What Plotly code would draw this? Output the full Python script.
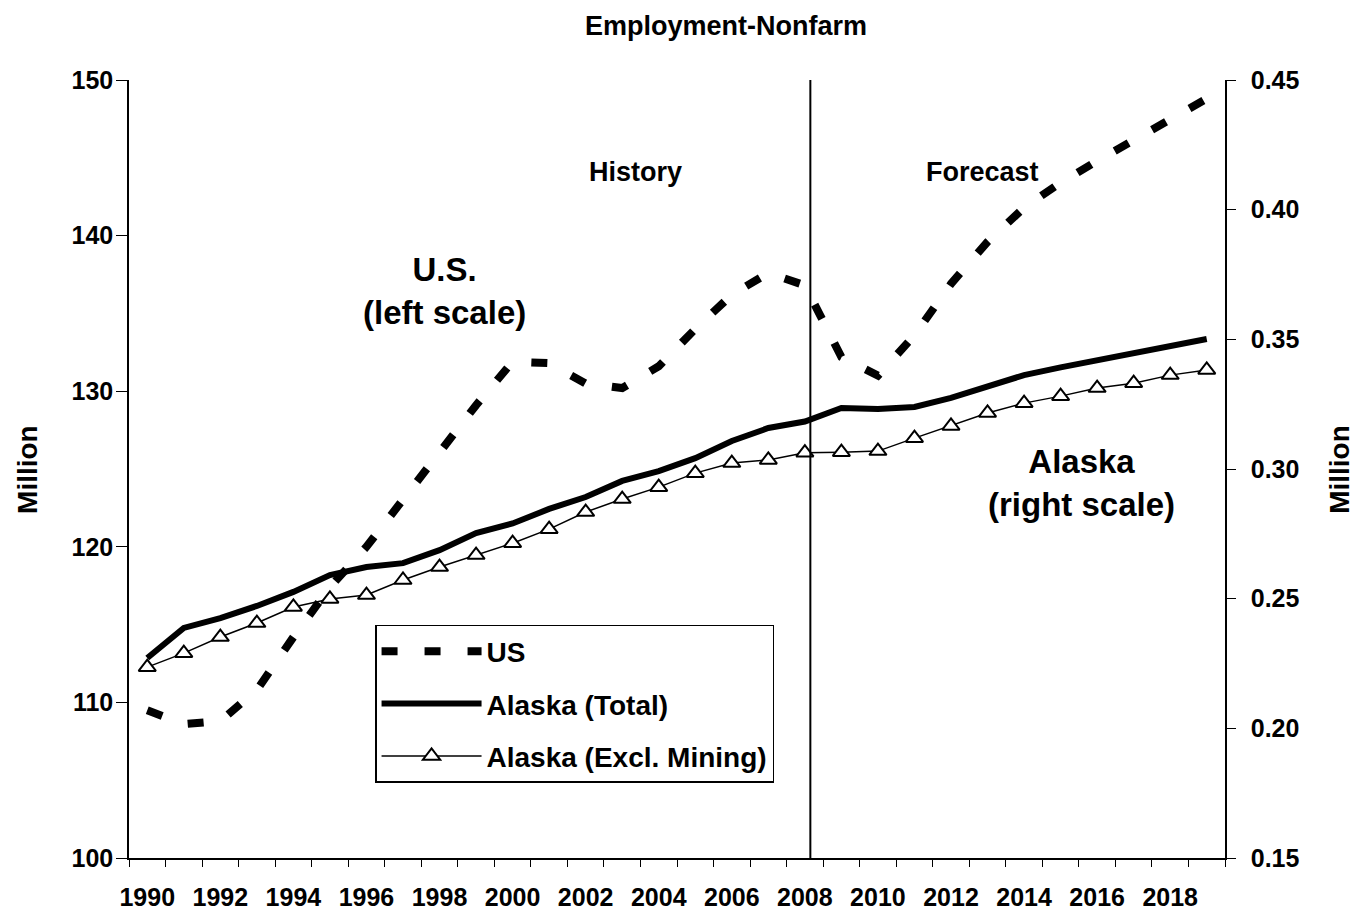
import plotly.graph_objects as go

years = list(range(1990, 2020))
tick_years = list(range(1990, 2019, 2))

us_total = [109.5, 108.6, 108.8, 110.8, 114.2, 117.4, 120.0, 123.1, 126.1, 129.1,
            131.9, 131.8, 130.5, 130.2, 131.6, 134.0, 136.2, 137.6, 136.8, 132.2,
            131.0, 133.6, 136.9, 139.6, 141.8, 143.4, 144.8, 146.1, 147.5, 148.8]

alaska_total = [0.2271, 0.2387, 0.2425, 0.2472, 0.2526, 0.2591, 0.2622, 0.2637, 0.2687, 0.2753,
                0.2790, 0.2846, 0.2892, 0.2954, 0.2992, 0.3042, 0.3108, 0.3158, 0.3183, 0.3235,
                0.3231, 0.3239, 0.3274, 0.3316, 0.3362, 0.3392, 0.3418, 0.3447, 0.3474, 0.3501]

alaska_excl_mining = [0.2236, 0.2290, 0.2352, 0.2406, 0.2468, 0.2499, 0.2514, 0.2572, 0.2622, 0.2668,
                      0.2714, 0.2768, 0.2834, 0.2884, 0.2930, 0.2984, 0.3023, 0.3035, 0.3063, 0.3065,
                      0.3069, 0.3119, 0.3166, 0.3216, 0.3254, 0.3281, 0.3312, 0.3331, 0.3362, 0.3382]

history_end_year = 2008.15

FONT = "Liberation Sans"
BOLD = dict(family=FONT, weight="bold", color="black")

fig = go.Figure()
fig.add_trace(go.Scatter(x=years, y=us_total, name="US", mode="lines",
                         line=dict(color="black", width=8, dash="16px,27px"),
                         legendgroup="a", yaxis="y"))
fig.add_trace(go.Scatter(x=years, y=alaska_total, name="Alaska (Total)", mode="lines",
                         line=dict(color="black", width=6),
                         legendgroup="b", yaxis="y2"))
fig.add_trace(go.Scatter(x=years, y=alaska_excl_mining, name="Alaska (Excl. Mining)",
                         mode="lines+markers",
                         line=dict(color="black", width=1.5),
                         marker=dict(symbol="triangle-up", size=15, color="white",
                                     line=dict(color="black", width=2)),
                         legendgroup="c", yaxis="y2"))

fig.add_shape(type="line", xref="x", yref="paper", x0=history_end_year, x1=history_end_year,
              y0=0, y1=1, line=dict(color="black", width=2))

def ann(text, x, y, size, angle=0):
    fig.add_annotation(text=text, x=x, y=y, xref="paper", yref="paper", showarrow=False,
                       font=dict(size=size, **BOLD), textangle=angle,
                       xanchor="center", yanchor="middle")

ann("History", 0.4617, 0.8817, 27)
ann("Forecast", 0.779, 0.8817, 27)
ann("U.S.<br>(left scale)", 0.2883, 0.729, 33)
ann("Alaska<br>(right scale)", 0.8695, 0.482, 33)
ann("Million", -0.092, 0.499, 28, -90)
ann("Million", 1.105, 0.499, 28, -90)

fig.update_layout(
    width=1362, height=920,
    margin=dict(l=129, r=137, t=80, b=62, autoexpand=False),
    paper_bgcolor="white", plot_bgcolor="white",
    font=dict(family=FONT, color="black"),
    title=dict(text="Employment-Nonfarm", x=0.533, y=0.972, xanchor="center", yanchor="middle",
               font=dict(size=27, **BOLD)),
    showlegend=True,
    legend=dict(x=0.2245, y=0.2995, xanchor="left", yanchor="top",
                bordercolor="black", borderwidth=1.5, bgcolor="white",
                font=dict(size=28, **BOLD), tracegroupgap=13,
                itemwidth=100),
    xaxis=dict(range=[1989.5, 2019.5], tickmode="array", tickvals=tick_years,
               ticktext=[str(y) for y in tick_years], ticks="", ticklabelstandoff=16,
               tickfont=dict(size=25, **BOLD), automargin=False,
               showline=True, linecolor="black", linewidth=1.5,
               showgrid=False, zeroline=False,
               minor=dict(tick0=1989.5, dtick=1, ticks="outside", ticklen=7,
                          tickcolor="black", tickwidth=1.2, showgrid=False)),
    yaxis=dict(range=[100, 150], dtick=10, ticks="outside", ticklen=11, tickcolor="black",
               tickwidth=1.2, tickfont=dict(size=25, **BOLD), automargin=False,
               ticklabelstandoff=-2,
               showline=True, linecolor="black", linewidth=1.5,
               showgrid=False, zeroline=False),
    yaxis2=dict(range=[0.15, 0.45], dtick=0.05, tickformat=".2f", overlaying="y", side="right",
                ticks="outside", ticklen=9, tickcolor="black", tickwidth=1.2,
                ticklabelstandoff=10, automargin=False,
                tickfont=dict(size=25, **BOLD),
                showline=True, linecolor="black", linewidth=1.5,
                showgrid=False, zeroline=False),
)

fig.write_html("out.html", config={"displayModeBar": False},
               post_script="document.body.style.margin='0';")
